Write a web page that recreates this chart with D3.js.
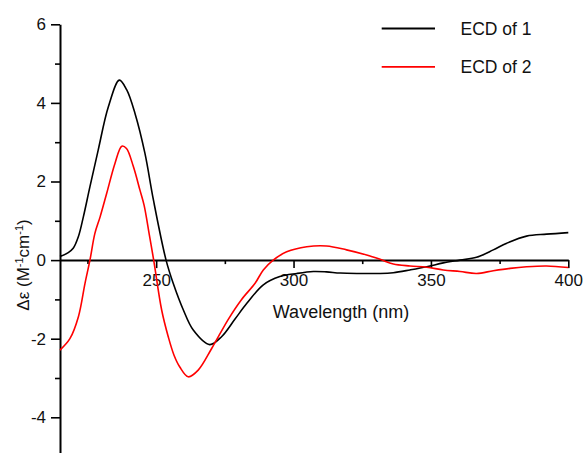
<!DOCTYPE html>
<html>
<head>
<meta charset="utf-8">
<script src="https://cdn.jsdelivr.net/npm/d3@7"></script>
<style>
  body { margin: 0; background: #fff; }
  svg { display: block; font-family: Arial, "Liberation Sans", sans-serif; }
</style>
</head>
<body>
<svg id="chart" width="587" height="453"></svg>
<script>
// wavelength (nm) / delta epsilon pairs
var ecd1Wave = [215, 218, 219.8, 221.7, 223.5, 225.9, 228.9, 232.6, 236.6, 239.3, 242.3, 245.9, 249, 253.6,
                256.2, 259.9, 263.5, 269.5, 273.8, 278.7, 283, 289, 295, 301.2, 307.2, 312, 317, 324.2, 331.5,
                336.3, 342.4, 348.5, 354.5, 360.6, 366.6, 372.7, 377.6, 384.8, 392.1, 400];
var ecd1Val  = [0.09, 0.19, 0.3, 0.6, 1.1, 1.87, 2.8, 3.9, 4.58, 4.33, 3.73, 2.72, 1.53, 0,
                -0.59, -1.27, -1.78, -2.15, -1.95, -1.5, -1.1, -0.63, -0.42, -0.34, -0.29, -0.3, -0.33, -0.34, -0.34,
                -0.32, -0.25, -0.17, -0.07, 0, 0.07, 0.26, 0.43, 0.61, 0.66, 0.7];

var ecd2Wave = [215, 218.6, 221.7, 224.1, 225.9, 227.7, 229.6, 232, 235, 237.5, 239.2, 241.7, 244.1, 245.6,
                247.5, 249.1, 252, 254.4, 256.5, 258.6, 261.7, 265.3, 270.2, 276.3, 281.1, 286, 289, 292.6,
                297.5, 304.8, 312, 319.3, 326.6, 331.5, 336.3, 342.4, 348.5, 354.5, 360.6, 366.6, 372.7,
                378.8, 384.8, 392.1, 400];
var ecd2Val  = [-2.29, -2.0, -1.44, -0.59, 0, 0.68, 1.1, 1.7, 2.46, 2.9, 2.84, 2.38, 1.78, 1.4,
                0.65, 0, -1.27, -1.95, -2.42, -2.72, -2.97, -2.8, -2.25, -1.5, -1.0, -0.59, -0.25, 0,
                0.21, 0.34, 0.36, 0.26, 0.13, 0.02, -0.1, -0.15, -0.18, -0.25, -0.29, -0.34, -0.27,
                -0.21, -0.17, -0.15, -0.19];

var seriesNames  = ["ECD of 1", "ECD of 2"];
var seriesColors = ["#000000", "#ff0000"];
var xMajorTicks = [250, 300, 350, 400];
var xMinorTicks = [225, 275, 325, 375];
var yMajorTicks = [-4, -2, 0, 2, 4, 6];
var yMinorTicks = [-5, -3, -1, 1, 3, 5];

var svg = d3.select('#chart');

var x = d3.scaleLinear().domain([215, 400]).range([60, 568.3]);
var y = d3.scaleLinear().domain([-5, 6]).range([456.6, 24.3]);

// plain hyphen for negatives, like the original
var fmt = function (d) { return String(d); };

// y axis (left edge)
svg.append('g')
    .attr('transform', 'translate(' + x(215) + ',0)')
    .call(d3.axisLeft(y).tickValues(yMajorTicks).tickSize(9).tickSizeOuter(0)
          .tickPadding(5).tickFormat(fmt));
svg.append('g')
    .attr('transform', 'translate(' + x(215) + ',0)')
    .call(d3.axisLeft(y).tickValues(yMinorTicks).tickSize(5).tickSizeOuter(0).tickFormat(''))
    .select('.domain').remove();

// x axis sits on zero
svg.append('g')
    .attr('transform', 'translate(0,' + y(0) + ')')
    .call(d3.axisBottom(x).tickValues(xMajorTicks).tickSize(8).tickSizeOuter(0)
          .tickPadding(6).tickFormat(fmt));
svg.append('g')
    .attr('transform', 'translate(0,' + y(0) + ')')
    .call(d3.axisBottom(x).tickValues(xMinorTicks).tickSize(4).tickSizeOuter(0).tickFormat(''))
    .select('.domain').remove();

svg.selectAll('.domain').attr('stroke', '#000').attr('stroke-width', 2);
svg.selectAll('.tick line').attr('stroke', '#000').attr('stroke-width', 1.6);
svg.selectAll('.tick text')
    .attr('fill', '#111')
    .style('font-size', '17px')
    .style('font-family', 'Arial, "Liberation Sans", sans-serif');

// curves
var line = d3.line()
        .x(function (d) { return x(d[0]); })
        .y(function (d) { return y(d[1]); })
        .curve(d3.curveCatmullRom.alpha(0.5));

var series = [d3.zip(ecd1Wave, ecd1Val), d3.zip(ecd2Wave, ecd2Val)];
series.forEach(function (pts, i) {
    svg.append('path')
        .datum(pts)
        .attr('fill', 'none')
        .attr('stroke', seriesColors[i])
        .attr('stroke-width', 1.6)
        .attr('d', line);
});

// axis titles
svg.append('text')
    .attr('x', 341)
    .attr('y', 318)
    .attr('text-anchor', 'middle')
    .attr('fill', '#111')
    .style('font-size', '18px')
    .text('Wavelength (nm)');

var yt = svg.append('text')
        .attr('transform', 'translate(29,265) rotate(-90)')
        .attr('text-anchor', 'middle')
        .attr('fill', '#111')
        .style('font-size', '17px');
yt.append('tspan').text('\u0394\u03b5 (M');
yt.append('tspan').attr('dy', -6).style('font-size', '11px').text('-1');
yt.append('tspan').attr('dy', 6).text('cm');
yt.append('tspan').attr('dy', -6).style('font-size', '11px').text('-1');
yt.append('tspan').attr('dy', 6).text(')');

// legend
var legend = svg.append('g');
seriesNames.forEach(function (name, i) {
    var ly = 28.5 + i * 38.3;
    legend.append('line')
        .attr('x1', 381.7).attr('x2', 435)
        .attr('y1', ly).attr('y2', ly)
        .attr('stroke', seriesColors[i])
        .attr('stroke-width', 1.8);
    legend.append('text')
        .attr('x', 460.5)
        .attr('y', ly)
        .attr('dy', '0.35em')
        .attr('fill', '#111')
        .style('font-size', '17.5px')
        .text(name);
});
</script>
</body>
</html>
